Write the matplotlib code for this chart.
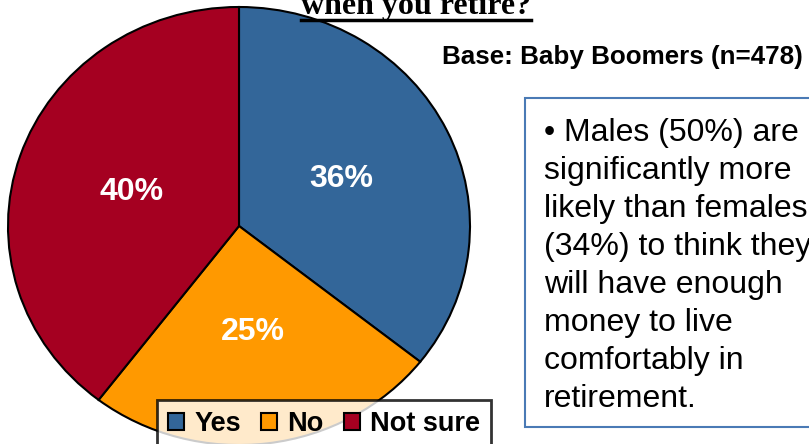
import matplotlib.pyplot as plt
from matplotlib.patches import Rectangle

plt.rcParams["font.family"] = ["Liberation Sans", "DejaVu Sans"]

# Pie data
labels = ["Yes", "No", "Not sure"]
values = [36, 25, 40]
colors = ["#336699", "#FF9900", "#A50021"]

title = "when you retire?"
base_note = "Base: Baby Boomers (n=478)"
callout = ("\u2022 Males (50%) are\nsignificantly more\nlikely than females\n"
           "(34%) to think they\nwill have enough\nmoney to live\n"
           "comfortably in\nretirement.")

W, H = 809, 444
fig = plt.figure(figsize=(W / 100, H / 100), dpi=100)

# pie axes, in pixel units (centre 239,226, radius ~230 x 219)
cx, cy, rx, ry = 239, 226, 231, 219
ax = fig.add_axes([(cx - rx) / W, (H - cy - ry) / H, 2 * rx / W, 2 * ry / H])
wedges, _, autotexts = ax.pie(
    values, colors=colors, startangle=90, counterclock=False,
    autopct=lambda p: f"{p:.0f}%", pctdistance=0.49,
    wedgeprops=dict(edgecolor="black", linewidth=1.5),
    textprops=dict(color="white", fontsize=23, fontweight="bold"),
)
ax.set_xlim(-1.0, 1.0)
ax.set_ylim(-1.0, 1.0)
ax.set_aspect("auto")
ax.axis("off")

# title (only last line visible at top)
fig.text(416 / W, 1 - 14 / H, title, ha="center", va="baseline",
         family="Liberation Serif", fontweight="bold", fontsize=23)
fig.add_artist(plt.Line2D([301 / W, 531 / W], [1 - 20.5 / H, 1 - 20.5 / H],
                          color="black", linewidth=2.5))

fig.text(442 / W, 1 - 57 / H, base_note, ha="left", va="center",
         fontweight="bold", fontsize=18.7)

# callout box
fig.add_artist(Rectangle((525 / W, 1 - 427 / H), 300 / W, 329 / H,
                         transform=fig.transFigure, facecolor="white",
                         edgecolor="#4A7AB5", linewidth=1.5))
fig.text(544 / W, 1 - 118 / H, callout, ha="left", va="top",
         fontsize=23, linespacing=1.345)

# legend
leg = fig.legend(wedges, labels, loc="upper left",
                 bbox_to_anchor=(157 / W, 1 - 400 / H), ncol=3,
                 frameon=True, fancybox=False, edgecolor="black",
                 handlelength=0.6, handleheight=0.6, handletextpad=0.37,
                 columnspacing=0.75, borderpad=0.4, borderaxespad=0,
                 prop=dict(weight="bold", size=19.5))
leg.get_frame().set_linewidth(2)
for h in leg.legend_handles:
    h.set_linewidth(1.5)

fig.savefig("out.png", dpi=100)
